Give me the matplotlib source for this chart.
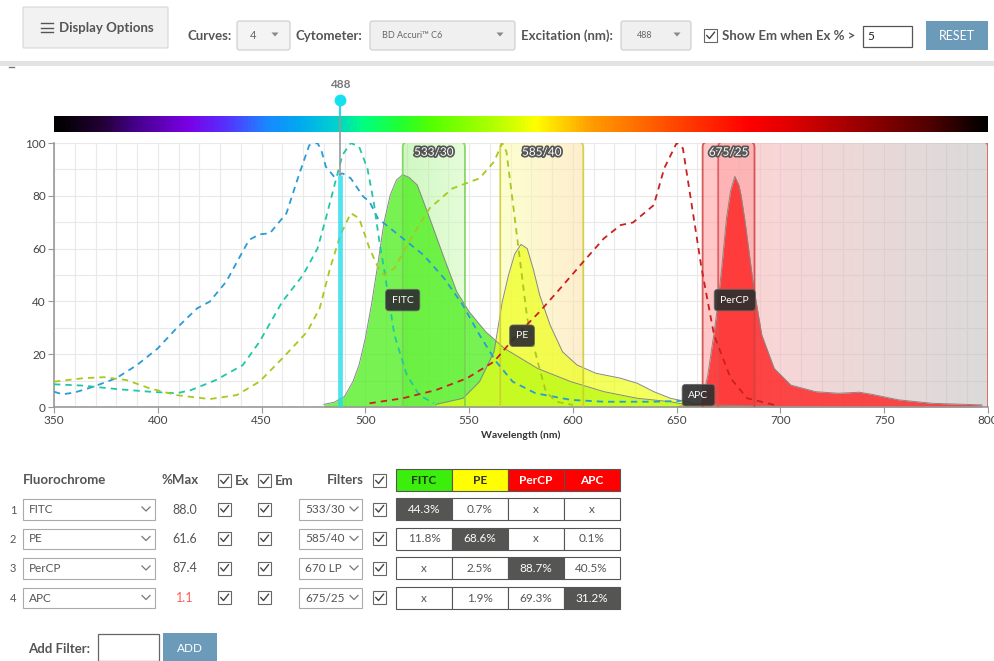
import numpy as np
import matplotlib
matplotlib.use('Agg')
import matplotlib.pyplot as plt
from matplotlib.patches import Rectangle, FancyBboxPatch, Polygon
from matplotlib.colors import LinearSegmentedColormap
import matplotlib.patheffects as pe

plt.rcParams['font.family'] = ['Lato', 'DejaVu Sans']

# ---------------- data ----------------
# excitation curves (dashed)
percp_ex_nm = [350, 354, 360, 369, 380, 390, 400, 409, 419, 425, 433, 440, 444, 449, 454, 462, 468, 473,
               477, 479, 481, 485, 489, 493, 499, 502, 506, 518, 528, 538, 547, 555, 563, 571, 582, 599,
               615, 639, 652]
percp_ex = [5.8, 4.8, 5.5, 7.7, 10.9, 15.9, 22.2, 29.8, 37.4, 39.9, 47.5, 57.6, 63.3, 65.4, 65.8, 73.4,
            87.9, 99.2, 100, 96.7, 91, 87.2, 88.5, 86.6, 79.7, 77.8, 71.5, 63.9, 57.6, 48.7, 38.6, 27.3,
            17.2, 9.6, 5.2, 2.7, 2.0, 2.0, 2.3]
fitc_ex_nm = [350, 364, 380, 396, 409, 416, 428, 441, 449, 460, 470, 477, 481, 486, 489, 493, 497, 501,
              504, 507, 509, 514, 520, 526, 533]
fitc_ex = [8.6, 8.1, 6.8, 5.8, 5.2, 6.4, 10.2, 15.9, 24.7, 39.9, 50, 60.1, 71.5, 86.6, 95.5, 100, 98.6,
           90.4, 77.8, 61.4, 52.5, 27.3, 12.1, 4.5, 1.4]
pe_ex_nm = [350, 364, 374, 385, 396, 409, 425, 438, 449, 460, 472, 478, 483, 488, 493, 497, 502, 506,
            509, 514, 523, 531, 542, 555, 562, 566, 568, 571, 575, 578, 583, 587, 592, 600]
pe_ex = [9.6, 10.9, 11.3, 10.2, 7.1, 4.5, 3.0, 4.5, 9.6, 18.4, 28.5, 37.4, 52.5, 65.2, 73.4, 71.5, 60.1,
         53.1, 50, 52.5, 65.2, 75.3, 82.8, 86.6, 92.9, 100, 96.7, 77.8, 52.5, 33.6, 17.2, 5.8, 2.0, 0.8]
apc_ex_nm = [502, 518, 534, 549, 562, 573, 584, 594, 605, 615, 623, 629, 639, 644, 650, 653, 657, 662,
             668, 676, 684, 697]
apc_ex = [1.4, 3.3, 6.4, 10.9, 17.2, 27.3, 36.1, 45, 55, 63.9, 68.9, 69.9, 76.5, 90.4, 100, 98, 77.8,
          52.5, 27.3, 10.9, 3.3, 0.8]

# emission curves (filled), already scaled by %Max
fitc_em_nm = [480, 485, 490, 494, 497, 500, 503, 506, 509, 512, 515, 518, 521, 525, 531, 538, 544, 550,
              558, 567, 583, 599, 615, 631, 647, 655]
fitc_em = [1.0, 1.8, 4, 9.6, 16, 26, 39, 54, 70, 80.3, 86, 88.0, 87, 84.1, 71.5, 56.3, 43.7, 36.1, 28.5,
           22.2, 14.6, 9.6, 5.8, 3.3, 2.0, 0.8]
pe_em_nm = [534, 547, 555, 562, 566, 569, 572, 575, 578, 581, 584, 589, 595, 602, 611, 623, 631, 639,
            647, 655, 660]
pe_em = [1.0, 3.3, 9.6, 20.9, 39.9, 50, 58, 61.6, 60, 52, 42.4, 31.1, 20.9, 15.9, 12.8, 10.9, 9.0, 5.8,
         3.3, 2.0, 0.8]
percp_em_nm = [662, 665, 668, 670, 672, 674, 676, 678, 680, 681, 683, 685, 687, 691, 697, 705, 717, 728,
               738, 744, 757, 773, 797]
percp_em = [1.0, 12.1, 28, 39.9, 55, 71.5, 82, 87.4, 84, 80.3, 70, 58, 46, 27.3, 14.6, 8.3, 5.8, 5.2,
            5.6, 4.8, 2.7, 1.4, 0.8]
apc_em_nm = [650, 655, 660, 665, 670, 680, 700, 720]
apc_em = [0.1, 0.6, 1.1, 1.0, 0.8, 0.5, 0.2, 0.05]

# filters: (name, low, high)
filter_names = ['670 LP', '675/25', '533/30', '585/40']
filter_lo = [670, 662.5, 518, 565]
filter_hi = [800, 687.5, 548, 605]

laser_nm = 488
laser_top = 88

# table
fluors = ['FITC', 'PE', 'PerCP', 'APC']
pct_max = [88.0, 61.6, 87.4, 1.1]
row_filters = ['533/30', '585/40', '670 LP', '675/25']
spill = [[44.3, 0.7, None, None],
         [11.8, 68.6, None, 0.1],
         [None, 2.5, 88.7, 40.5],
         [None, 1.9, 69.3, 31.2]]

# ---------------- figure ----------------
W, H = 995, 661
fig = plt.figure(figsize=(W / 100, H / 100), dpi=100)
fig.patch.set_facecolor('white')

def fx(px):
    return px / W

def fy(py):
    return 1 - py / H

# ui layer in pixel coords
ui = fig.add_axes([0, 0, 1, 1])
ui.set_xlim(0, W)
ui.set_ylim(H, 0)
ui.axis('off')
ui.patch.set_visible(False)

# spectrum bar
bar = fig.add_axes([fx(54), fy(132), fx(934), 16 / H])
spec_nm = [350, 372, 388, 414, 433, 452, 468, 485, 499, 517, 532, 565, 582, 610, 623, 643, 659, 685, 707,
           739, 771, 800]
spec_col = ['#000000', '#220033', '#440088', '#7a00e6', '#5533ff', '#1a88ff', '#00aaf0', '#00d0d0',
            '#00ff80', '#22ff30', '#55ff00', '#bbff00', '#ffff00', '#ff9900', '#ff8000', '#ff5500',
            '#ff3300', '#ff0000', '#dd0000', '#990000', '#550000', '#000000']
spec_cmap = LinearSegmentedColormap.from_list(
    'spec', list(zip([(v - 350) / 450 for v in spec_nm], spec_col)))
bar.imshow(np.linspace(0, 1, 900).reshape(1, -1), cmap=spec_cmap, aspect='auto',
           extent=[350, 800, 0, 1])
bar.set_xlim(350, 800)
bar.axis('off')

# main chart
ax = fig.add_axes([fx(54), fy(407), fx(934), 264 / H])
ax.set_xlim(350, 800)
ax.set_ylim(0, 100)
ax.set_xticks(range(350, 801, 50))
ax.set_yticks(range(0, 101, 20))
ax.set_xticks(range(350, 801, 10), minor=True)
ax.set_yticks(range(0, 101, 10), minor=True)
ax.set_axisbelow(True)
ax.grid(which='both', color='#e9e9e9', lw=0.8)
for s in ['top', 'right']:
    ax.spines[s].set_visible(False)
for s in ['left', 'bottom']:
    ax.spines[s].set_color('#999999')
    ax.spines[s].set_linewidth(1.2)
ax.tick_params(which='major', length=4, color='#999999', labelsize=8.5, labelcolor='#444444', pad=2)
ax.tick_params(which='minor', length=0)
ax.set_xlabel('Wavelength (nm)', fontsize=7.5, fontweight='bold', color='#333333', labelpad=3)

# filter boxes with gradient fill
asp = (934 / 450) / (264 / 100)
box_style = {
    '670 LP': ('#ffb3b3', '#bdbdbd', '#e05050'),
    '675/25': ('#ff9a9a', '#ff9a9a', '#d04040'),
    '533/30': ('#a8f290', '#d2fbbb', '#77d055'),
    '585/40': ('#fbffa8', '#fde0a8', '#cccc33'),
}
for name, lo, hi in zip(filter_names, filter_lo, filter_hi):
    cl, cr, ec = box_style[name]
    patch = FancyBboxPatch((lo, -5), hi - lo, 105.5, boxstyle='round,pad=0,rounding_size=2.6',
                           mutation_aspect=asp, fc='none', ec=ec, lw=1.3, zorder=4, alpha=0.85)
    ax.add_patch(patch)
    cm = LinearSegmentedColormap.from_list(name, [cl, cr])
    im = ax.imshow(np.linspace(0, 1, 256).reshape(1, -1), extent=[lo, hi, -5, 100.5], aspect='auto',
                   cmap=cm, alpha=0.55, zorder=1)
    im.set_clip_path(patch)
    if name != '670 LP':
        ax.text((lo + hi) / 2, 96.5, name, ha='center', va='center', fontsize=8.5, color='white',
                zorder=8, path_effects=[pe.withStroke(linewidth=2.5, foreground='#555555')])
ax.set_xlim(350, 800)
ax.set_ylim(0, 100)

# emission fills
for nm, v, col, a in [(fitc_em_nm, fitc_em, '#44ee11', 0.72),
                      (pe_em_nm, pe_em, '#eeff11', 0.68),
                      (percp_em_nm, percp_em, '#ff1414', 0.75),
                      (apc_em_nm, apc_em, '#ff6600', 0.8)]:
    ax.fill_between(nm, v, 0, color=col, alpha=a, lw=0, zorder=2)
    ax.plot(nm, v, color='#888888', lw=0.7, zorder=2.1)

# excitation dashed curves
for nm, v, col in [(percp_ex_nm, percp_ex, '#2a9bd6'),
                   (fitc_ex_nm, fitc_ex, '#1fc8a5'),
                   (pe_ex_nm, pe_ex, '#a8c81e'),
                   (apc_ex_nm, apc_ex, '#cc1f1f')]:
    ax.plot(nm, v, color=col, lw=1.3, dashes=(3.5, 2.8), zorder=5)

# laser line
ax.plot([laser_nm, laser_nm], [0, laser_top], color='#22dcec', lw=3.4, alpha=0.8, zorder=6,
        solid_capstyle='butt')
ax.plot([laser_nm, laser_nm], [laser_top, 110.5], color='#999999', lw=1.2, zorder=6, clip_on=False)
ax.plot([laser_nm, laser_nm], [110.5, 116.3], color='#22dcec', lw=1.5, zorder=6, clip_on=False)
ax.plot([laser_nm], [116.3], 'o', ms=8.5, color='#15e0f0', mec='none', zorder=7, clip_on=False)
ax.text(laser_nm, 122, str(laser_nm), ha='center', va='center', fontsize=8.5, fontweight='bold',
        color='#777777', clip_on=False)

# curve name tags
for name, x, y in [('FITC', 518, 40.5), ('PE', 575.5, 27), ('PerCP', 678, 40.5), ('APC', 660.5, 4.5)]:
    ax.text(x, y, name, ha='center', va='center', fontsize=7.5, color='white', zorder=9,
            bbox=dict(boxstyle='round,pad=0.6,rounding_size=0.35', fc='#2f2f2f', ec='#666666', lw=0.6,
                      alpha=0.92))

# ---------------- top controls ----------------
def rbox(x, y, w, h, fc, ec, lw=0.8, r=2.5):
    ui.add_patch(FancyBboxPatch((x, y), w, h, boxstyle=f'round,pad=0,rounding_size={r}',
                                fc=fc, ec=ec, lw=lw))

def caret(x, y):
    ui.add_patch(Polygon([(x - 3.5, y - 2), (x + 3.5, y - 2), (x, y + 2)], closed=True,
                         fc='#888888', ec='none'))

def chevron(x, y):
    ui.plot([x - 4, x, x + 4], [y - 2, y + 2, y - 2], color='#777777', lw=0.9)

def checkbox(x, y, s=13):
    ui.add_patch(Rectangle((x, y), s, s, fc='white', ec='#666666', lw=0.8))
    ui.plot([x + 2.8, x + 5.5, x + 10.5], [y + 6.5, y + 9.5, y + 3.2], color='#444444', lw=1.0)

label_kw = dict(fontsize=9.5, color='#555555', fontweight='bold', va='center')

rbox(23, 7, 145, 41, '#f2f2f2', '#d6d6d6', r=1)
for yy in (23, 27.5, 32):
    ui.plot([41, 53], [yy, yy], color='#555555', lw=1.0)
ui.text(59, 27.5, 'Display Options', **label_kw)

ui.text(187, 36, 'Curves:', **label_kw)
rbox(237, 21, 53, 29, '#f4f4f4', '#cccccc')
ui.text(253, 35.5, '4', fontsize=8, color='#666666', va='center', ha='center')
caret(275, 34.5)

ui.text(296, 36, 'Cytometer:', **label_kw)
rbox(370, 21, 145, 29, '#f0f0f0', '#cccccc')
ui.text(382, 35.5, 'BD Accuri™ C6', fontsize=6.5, color='#666666', va='center')
caret(500, 34.5)

ui.text(521, 36, 'Excitation (nm):', **label_kw)
rbox(621, 21, 70, 29, '#f0f0f0', '#cccccc')
ui.text(645, 35.5, '488', fontsize=6.5, color='#666666', va='center', ha='center')
caret(677, 34.5)

checkbox(704, 29)
ui.text(722, 36, 'Show Em when Ex % >', **label_kw)
ui.add_patch(Rectangle((863, 26), 49, 21, fc='white', ec='#555555', lw=0.9))
ui.text(867, 36.5, '5', fontsize=8.5, color='#222222', va='center')

ui.add_patch(Rectangle((926, 21), 62, 29, fc='#6b9bb8', ec='none'))
ui.text(957, 36, 'RESET', fontsize=9, color='white', ha='center', va='center')

ui.add_patch(Rectangle((0, 61), W, 5, fc='#e3e3e3', ec='none'))
ui.plot([9, 14], [67, 67], color='#777777', lw=1.0)

# ---------------- table ----------------
ui.text(23, 480, 'Fluorochrome', **label_kw)
ui.text(180, 480, '%Max', ha='center', **label_kw)
checkbox(218, 474)
ui.text(235, 481, 'Ex', **label_kw)
checkbox(258, 474)
ui.text(275, 481, 'Em', **label_kw)
ui.text(364, 480, 'Filters', ha='right', **label_kw)
checkbox(373, 474)

col_x = [396, 452, 507.5, 563.5, 619.5]
head_fc = ['#3cee0c', '#ffff00', '#ff0000', '#ff0000']
head_tc = ['#1a3a10', '#333333', 'white', 'white']
for j, name in enumerate(fluors):
    ui.add_patch(Rectangle((col_x[j], 469), col_x[j + 1] - col_x[j], 22, fc=head_fc[j], ec='#555555',
                           lw=0.8))
    ui.text((col_x[j] + col_x[j + 1]) / 2, 480.5, name, ha='center', va='center', fontsize=8.5,
            fontweight='bold', color=head_tc[j])

row_y = [509, 538.5, 568, 597.5]
for i, yc in enumerate(row_y):
    ui.text(13, yc + 1, str(i + 1), fontsize=8, color='#555555', ha='center', va='center')
    ui.add_patch(Rectangle((23, yc - 10), 132, 20.5, fc='white', ec='#aaaaaa', lw=0.8))
    ui.text(29, yc + 0.5, fluors[i], fontsize=8.5, color='#555555', va='center')
    chevron(146, yc)
    ui.text(185, yc + 0.5, f'{pct_max[i]:.1f}', fontsize=9, ha='center', va='center',
            color='#ff5a5a' if pct_max[i] < 5 else '#555555')
    checkbox(218, yc - 6.5)
    checkbox(258, yc - 6.5)
    ui.add_patch(Rectangle((299, yc - 10), 63, 20.5, fc='white', ec='#aaaaaa', lw=0.8))
    ui.text(305, yc + 0.5, row_filters[i], fontsize=8.5, color='#555555', va='center')
    chevron(354, yc)
    checkbox(373, yc - 6.5)
    for j in range(4):
        v = spill[i][j]
        dark = i == j
        ui.add_patch(Rectangle((col_x[j], yc - 11), col_x[j + 1] - col_x[j], 22,
                               fc='#555553' if dark else 'white', ec='#555555', lw=0.8))
        ui.text((col_x[j] + col_x[j + 1]) / 2, yc + 0.5, 'x' if v is None else f'{v:.1f}%',
                ha='center', va='center', fontsize=8.5, color='white' if dark else '#555555')

ui.text(28, 649, 'Add Filter:', **label_kw)
ui.add_patch(Rectangle((98, 634), 61, 27, fc='white', ec='#666666', lw=0.9))
ui.add_patch(Rectangle((163, 633), 54, 28, fc='#6b9bb8', ec='none'))
ui.text(190, 648, 'ADD', fontsize=8.5, color='white', ha='center', va='center')

fig.savefig('out.png', dpi=100)
